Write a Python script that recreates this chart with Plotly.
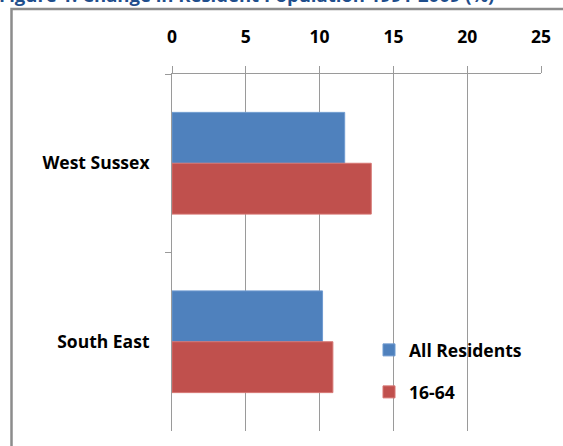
import plotly.graph_objects as go

# ---- data ----
categories = ["West Sussex", "South East"]
all_residents = [11.7, 10.2]
age_16_64 = [13.5, 10.9]
x_ticks = [0, 5, 10, 15, 20, 25]
title_text = "Figure 1: Change in Resident Population 1991-2009 (%)"

W, H = 563, 446
L, R, T, B = 172, 22, 74, 15
PW, PH = W - L - R, H - T - B

def px(x):
    return (x - L) / PW

def py(y):
    return (H - B - y) / PH

FONT = "Open Sans"
GRID = "#9a9a9a"
FS = 17.5

fig = go.Figure()
fig.add_trace(go.Bar(
    y=categories, x=all_residents, orientation="h", name="All Residents",
    marker=dict(color="#4F81BD", line=dict(color="#6f9bd0", width=1)),
    legend="legend",
))
fig.add_trace(go.Bar(
    y=categories, x=age_16_64, orientation="h", name="16-64",
    marker=dict(color="#C0504D", line=dict(color="#d67572", width=1)),
    legend="legend2",
))

fig.update_layout(
    width=W, height=H,
    margin=dict(l=L, r=R, t=T, b=B, pad=0),
    paper_bgcolor="white", plot_bgcolor="white",
    barmode="group", bargap=0.43, bargroupgap=0,
    font=dict(family=FONT, color="black"),
    xaxis=dict(
        side="top", range=[0, 25], tickvals=x_ticks,
        showgrid=True, gridcolor=GRID, gridwidth=1,
        showline=True, linecolor=GRID, linewidth=1,
        ticks="outside", ticklen=7, tickcolor=GRID, tickwidth=1,
        zeroline=False, ticklabelstandoff=16,
        tickfont=dict(family=FONT, size=FS, weight="bold", color="black"),
    ),
    yaxis=dict(
        autorange="reversed", type="category",
        showgrid=False, showline=True, linecolor=GRID, linewidth=1,
        ticks="outside", ticklen=6, tickcolor=GRID, tickwidth=1,
        tickson="boundaries", ticklabelstandoff=18,
        tickfont=dict(family=FONT, size=FS, weight="bold", color="black"),
    ),
    showlegend=True,
    legend=dict(
        x=px(369), xanchor="left", y=py(350), yanchor="middle",
        bgcolor="rgba(0,0,0,0)", borderwidth=0,
        font=dict(family=FONT, size=FS, weight="bold", color="black"),
    ),
    legend2=dict(
        x=px(369), xanchor="left", y=py(392), yanchor="middle",
        bgcolor="rgba(0,0,0,0)", borderwidth=0,
        font=dict(family=FONT, size=FS, weight="bold", color="black"),
    ),
    shapes=[dict(
        type="rect", xref="paper", yref="paper",
        x0=px(11.5), x1=px(W + 10), y0=py(H + 10), y1=py(9),
        line=dict(color="#8c8c8c", width=2.5), fillcolor="rgba(0,0,0,0)",
        layer="above",
    )],
    annotations=[dict(
        text=title_text, xref="paper", yref="paper",
        x=px(-3), xanchor="left", y=py(-5), yanchor="middle",
        showarrow=False,
        font=dict(family=FONT, size=18.5, weight="bold", color="#1F4E8C"),
    )],
)

fig.write_html("out.html")
